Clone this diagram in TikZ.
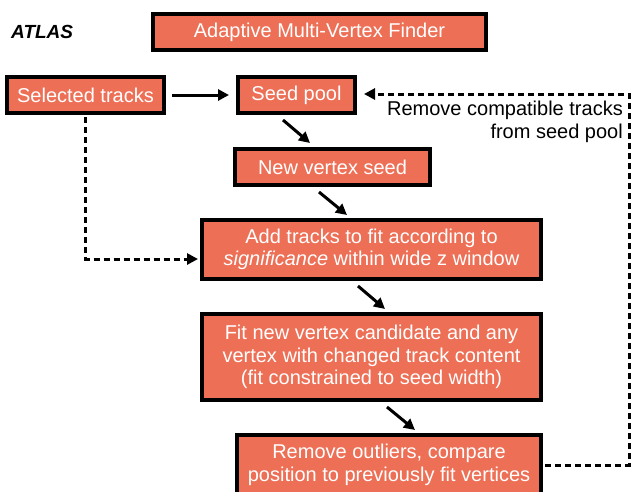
\documentclass[tikz,border=0pt]{standalone}
\usepackage{fontspec}
\setmainfont{Liberation Sans}
\usetikzlibrary{arrows.meta,calc}
\definecolor{boxfill}{RGB}{237,111,86}
\begin{document}
\begin{tikzpicture}[x=1pt,y=-1pt,
  stepbox/.style={draw=black, line width=4pt, fill=boxfill, text=white,
    inner sep=0pt, align=center, font=\fontsize{20}{22.5}\selectfont},
  arr/.style={line width=3pt, -{Triangle[length=11pt,width=11pt]}},
  dsh/.style={line width=3pt, dash pattern=on 6pt off 4pt},
]
\clip (0,0) rectangle (632,491);

% header
\node[font=\fontsize{19}{19}\selectfont\bfseries\itshape, anchor=west, inner sep=0pt]
  (atlas) at (11,32) {ATLAS};
\node[stepbox, minimum width=333pt, minimum height=36pt] (title) at (319.5,32)
  {Adaptive Multi-Vertex Finder};

% flow boxes
\node[stepbox, minimum width=157pt, minimum height=36pt] (sel) at (85.5,95) {Selected tracks};
\node[stepbox, minimum width=117pt, minimum height=36pt] (seed) at (296.5,95) {Seed pool};
\node[stepbox, minimum width=195pt, minimum height=36pt] (nv) at (332.5,167) {New vertex seed};
\node[stepbox, minimum width=339pt, minimum height=59pt] (add) at (371.5,249.5)
  {Add tracks to fit according to\\\textit{significance} within wide z window};
\node[stepbox, minimum width=339pt, minimum height=86pt] (fit) at (371.5,357)
  {Fit new vertex candidate and any\\vertex with changed track content\\(fit constrained to seed width)};
\node[stepbox, minimum width=304pt, minimum height=60pt] (rem) at (389,465)
  {Remove outliers, compare\\position to previously fit vertices};

% loop label
\node[anchor=east, align=right, inner sep=0pt, font=\fontsize{20}{23}\selectfont]
  (lbl) at (623,121.5) {Remove compatible tracks\\from seed pool};

% solid connectors
\draw[arr] ([xshift=6pt]sel.east) -- ([xshift=-7pt]seed.west);
\draw[arr] ([xshift=-13.5pt,yshift=-5pt]seed.south) -- ([xshift=-22.5pt,yshift=4pt]nv.north);
\draw[arr] ([xshift=-13.5pt,yshift=-5pt]nv.south) -- ([xshift=-24.5pt,yshift=3pt]add.north);
\draw[arr] ([xshift=-13.5pt,yshift=-5pt]add.south) -- ([xshift=13.5pt,yshift=3pt]add.south |- fit.north);
\draw[arr] ([xshift=15.5pt,yshift=-5pt]fit.south) -- ([xshift=26pt,yshift=3pt]rem.north);

% dashed connectors
\coordinate (loopR) at (629,0);
\draw[dsh, -{Triangle[length=11pt,width=11pt]}]
  ([xshift=2pt]rem.east) -- (rem.east -| loopR) -- ([yshift=1pt]seed.east -| loopR)
  -- ([xshift=7pt,yshift=1pt]seed.east);
\draw[dsh, -{Triangle[length=11pt,width=11pt]}]
  ([yshift=-2pt]sel.south) |- ([xshift=-2pt,yshift=-9.5pt]add.west);
\end{tikzpicture}
\end{document}
